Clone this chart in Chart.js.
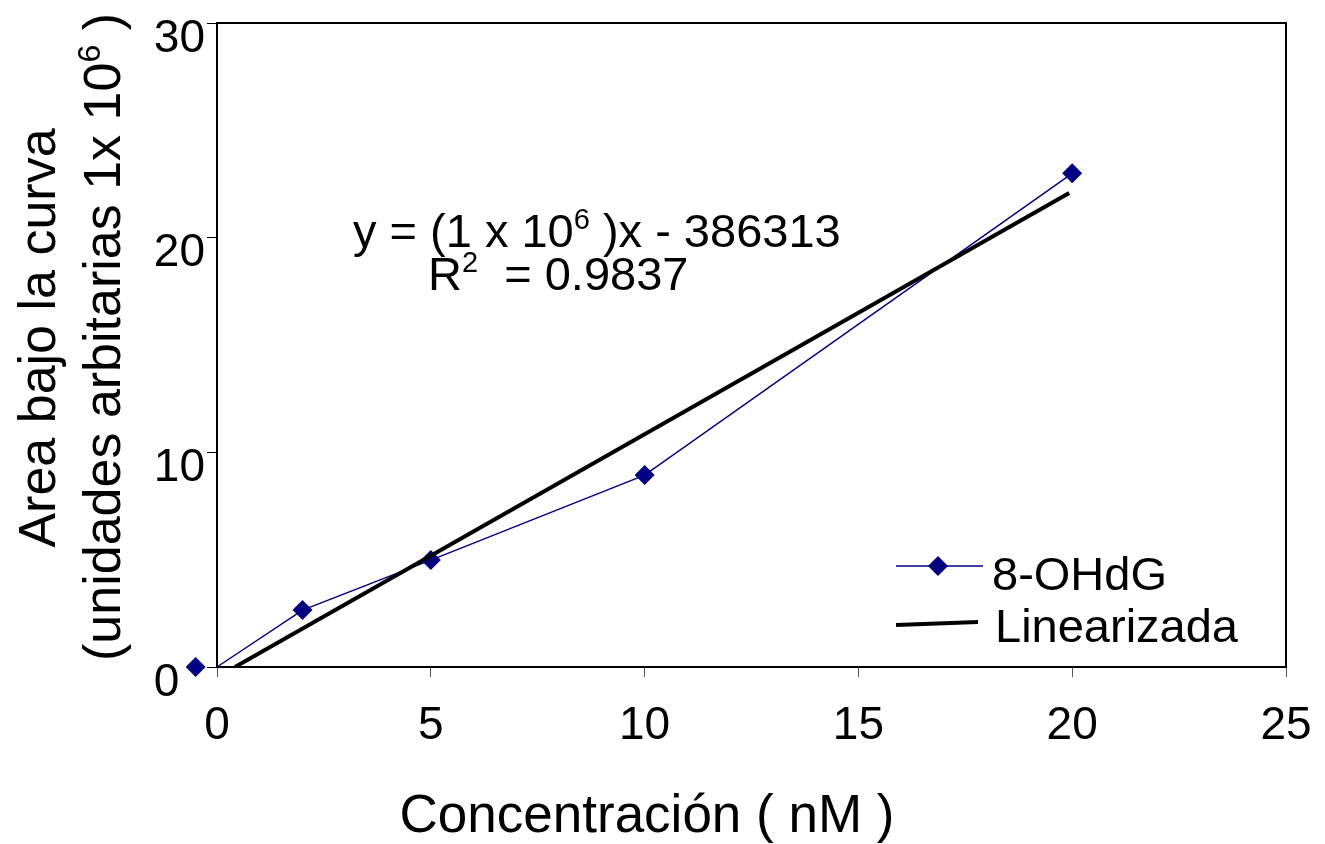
<!DOCTYPE html>
<html>
<head>
<meta charset="utf-8">
<script src="https://cdn.jsdelivr.net/npm/chart.js@4/dist/chart.umd.min.js"></script>
<style>
  html, body { margin: 0; padding: 0; background: #fff; }
  canvas { display: block; }
</style>
</head>
<body>
<canvas id="c" width="1325" height="844"></canvas>
<script>
// ---- data ----
const concentration = [0, 2, 5, 10, 20];          // nM
const area = [0, 2.65, 4.98, 8.94, 23.0];          // x 10^6
const zeroMarkerX = [-0.5];                        // marker of the blank drawn left of the axis
const zeroMarkerY = [0];
const fitX = [0.42, 19.93];
const fitY = [0, 22.08];
const xTicks = [0, 5, 10, 15, 20, 25];
const yTicks = [0, 10, 20, 30];
const seriesNames = ['8-OHdG', 'Linearizada'];

const FONT = '"Liberation Sans", Arial, sans-serif';
const NAVY = '#000080';

function pts(xs, ys) { return xs.map((x, i) => ({ x: x, y: ys[i] })); }

function drawRich(ctx, segs, x, y, size, align) {
  ctx.textAlign = 'left';
  let total = 0;
  const widths = segs.map(s => {
    ctx.font = (s.sup ? Math.round(size * 0.62) : size) + 'px ' + FONT;
    const w = ctx.measureText(s.t).width;
    total += w;
    return w;
  });
  let cx = align === 'center' ? x - total / 2 : x;
  segs.forEach((s, i) => {
    ctx.font = (s.sup ? Math.round(size * 0.62) : size) + 'px ' + FONT;
    ctx.fillText(s.t, cx, s.sup ? y - size * 0.38 : y);
    cx += widths[i];
  });
}

function diamond(ctx, x, y, r) {
  ctx.beginPath();
  ctx.moveTo(x, y - r); ctx.lineTo(x + r, y); ctx.lineTo(x, y + r); ctx.lineTo(x - r, y);
  ctx.closePath(); ctx.fill();
}

const decor = {
  id: 'decor',
  afterDraw(chart) {
    const ctx = chart.ctx;
    const a = chart.chartArea;
    const xs = chart.scales.x, ys = chart.scales.y;
    ctx.save();
    // plot box
    ctx.strokeStyle = '#000';
    ctx.lineWidth = 2;
    ctx.strokeRect(a.left, a.top, a.right - a.left, a.bottom - a.top);

    // blank marker, left of the y axis
    ctx.fillStyle = NAVY;
    zeroMarkerX.forEach((v, i) => diamond(ctx, xs.getPixelForValue(v), ys.getPixelForValue(zeroMarkerY[i]), 10));

    ctx.fillStyle = '#000';
    ctx.textBaseline = 'alphabetic';

    // equation
    drawRich(ctx, [{t: 'y = (1 x 10'}, {t: '6', sup: true}, {t: ' )x - 386313'}], 353, 247, 47, 'left');
    drawRich(ctx, [{t: 'R'}, {t: '2', sup: true}, {t: '  = 0.9837'}], 428, 290, 47, 'left');

    // x title
    ctx.font = '53px ' + FONT;
    ctx.textAlign = 'center';
    ctx.fillText('Concentración ( nM )', 647, 832);

    // y title (rotated)
    ctx.save();
    ctx.translate(55, 338);
    ctx.rotate(-Math.PI / 2);
    ctx.font = '52px ' + FONT;
    ctx.textAlign = 'center';
    ctx.fillText('Area bajo la curva', 0, 0);
    ctx.restore();
    ctx.save();
    ctx.translate(120, 337);
    ctx.rotate(-Math.PI / 2);
    drawRich(ctx, [{t: '(unidades arbitarias 1x 10'}, {t: '6', sup: true}, {t: ' )'}], 0, 0, 52, 'center');
    ctx.restore();

    // legend
    const ds0 = chart.data.datasets[0];
    const ds1 = chart.data.datasets[1];
    ctx.strokeStyle = ds0.borderColor;
    ctx.lineWidth = ds0.borderWidth;
    ctx.beginPath(); ctx.moveTo(896, 566); ctx.lineTo(983, 566); ctx.stroke();
    ctx.fillStyle = ds0.backgroundColor;
    diamond(ctx, 938, 566, 10);
    ctx.strokeStyle = ds1.borderColor;
    ctx.lineWidth = ds1.borderWidth;
    ctx.beginPath(); ctx.moveTo(896, 625); ctx.lineTo(978, 622); ctx.stroke();
    ctx.fillStyle = '#000';
    ctx.textAlign = 'left';
    ctx.font = '47px ' + FONT;
    ctx.fillText(seriesNames[0], 992, 590);
    ctx.fillText(seriesNames[1], 995, 642);
    ctx.restore();
  }
};

new Chart(document.getElementById('c'), {
  type: 'scatter',
  data: {
    datasets: [
      {
        label: seriesNames[0],
        data: pts(concentration, area),
        showLine: true,
        borderColor: NAVY,
        backgroundColor: NAVY,
        borderWidth: 1.5,
        pointStyle: 'rectRot',
        pointRadius: concentration.map((c, i) => i === 0 ? 0 : 10),
        pointBorderWidth: 0,
        clip: false,
        order: 2
      },
      {
        label: seriesNames[1],
        data: pts(fitX, fitY),
        showLine: true,
        borderColor: '#000',
        backgroundColor: '#000',
        borderWidth: 4,
        pointRadius: 0,
        order: 1
      }
    ]
  },
  options: {
    responsive: false,
    animation: false,
    events: [],
    layout: { padding: { top: 23, right: 39, left: 0, bottom: 0 } },
    plugins: { legend: { display: false }, tooltip: { enabled: false } },
    scales: {
      x: {
        type: 'linear',
        min: 0, max: 25,
        afterBuildTicks(s) { s.ticks = xTicks.map(v => ({ value: v })); },
        afterFit(s) { s.height = 844 - 667; s.paddingLeft = 0; s.paddingRight = 0; },
        ticks: { color: '#000', font: { family: FONT, size: 46 }, padding: 22 },
        grid: { drawOnChartArea: false, tickLength: 10, color: '#000', tickColor: '#555', tickWidth: 1 },
        border: { color: '#000', width: 2 }
      },
      y: {
        type: 'linear',
        min: 0, max: 30,
        afterBuildTicks(s) { s.ticks = yTicks.map(v => ({ value: v })); },
        afterFit(s) { s.width = 217; s.paddingTop = 0; s.paddingBottom = 0; },
        ticks: {
          color: '#000', font: { family: FONT, size: 46 }, padding: 2, labelOffset: 16,
          callback: v => (v === 0 ? '0  ' : String(v))
        },
        grid: { drawOnChartArea: false, tickLength: 10, color: '#000', tickColor: '#000', tickWidth: 1 },
        border: { color: '#000', width: 2 }
      }
    }
  },
  plugins: [decor]
});
</script>
</body>
</html>
